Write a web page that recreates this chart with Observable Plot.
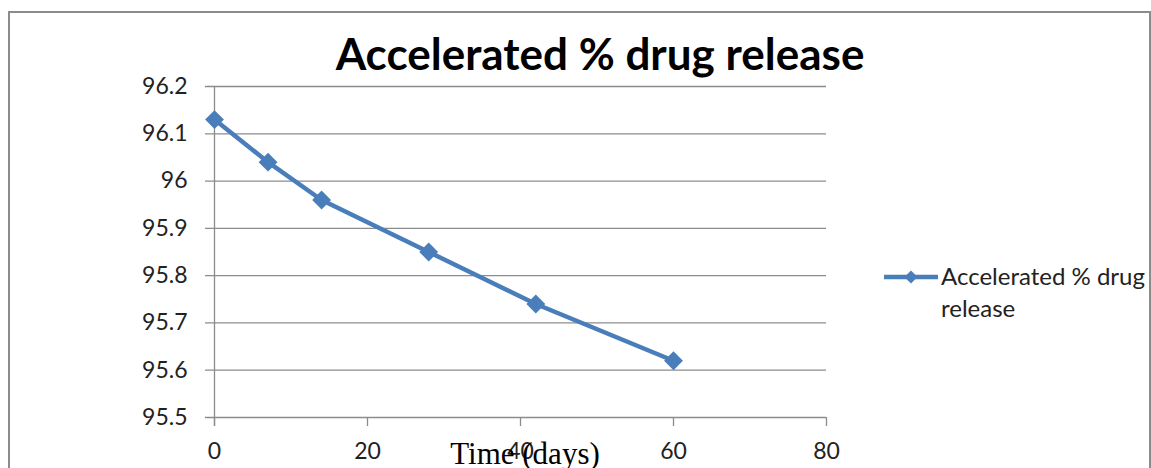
<!DOCTYPE html>
<html>
<head>
<meta charset="utf-8">
<script src="https://cdn.jsdelivr.net/npm/d3@7"></script>
<script src="https://cdn.jsdelivr.net/npm/@observablehq/plot@0.6"></script>
<style>
  html, body { margin: 0; padding: 0; background: #fff; }
  #chart { width: 1151px; height: 468px; overflow: hidden; }
</style>
</head>
<body>
<div id="chart"></div>
<script>
const days = [0, 7, 14, 28, 42, 60];
const release = [96.13, 96.04, 95.96, 95.85, 95.74, 95.62];
const xTicks = [0, 20, 40, 60, 80];
const yTicks = [95.5, 95.6, 95.7, 95.8, 95.9, 96, 96.1, 96.2];
const titleText = "Accelerated % drug release";
const xLabel = "Time (days)";
const legendLines = ["Accelerated % drug", "release"];

const data = days.map((d, i) => ({day: d, value: release[i]}));
const blue = "#4a7ebb";
const grid = "#8c8c8c";
const font = "Lato, 'Open Sans', sans-serif";

const W = 1151, H = 468;
const plot = Plot.plot({
  width: W,
  height: H,
  marginLeft: 214,
  marginRight: W - 826,
  marginTop: 86,
  marginBottom: H - 417,
  style: {fontFamily: font, background: "white", color: "#222"},
  x: {domain: [0, 80], ticks: xTicks},
  y: {domain: [95.5, 96.2], ticks: yTicks},
  marks: [
    Plot.ruleY(yTicks, {stroke: grid, strokeWidth: 1.3, insetLeft: -9}),
    Plot.ruleX([0], {stroke: grid, strokeWidth: 1.3, insetBottom: -9}),
    Plot.axisX({ticks: xTicks, tickSize: 9, stroke: grid, strokeWidth: 1.3, fill: "#222", fontSize: 23, tickPadding: 16, label: null, tickFormat: d => `${d}`}),
    Plot.axisY({ticks: yTicks, tickSize: 0, fill: "#222", fontSize: 23, tickPadding: 27, label: null, tickFormat: d => `${d}`}),
    Plot.line(data, {x: "day", y: "value", stroke: blue, strokeWidth: 4.5}),
    Plot.dot(data, {x: "day", y: "value", symbol: "diamond2", r: 8.5, fill: blue, stroke: null})
  ]
});
document.getElementById("chart").appendChild(plot);

const svg = d3.select(plot);
// outer chart border
svg.append("rect")
  .attr("x", 9).attr("y", 12).attr("width", 1141).attr("height", 480)
  .attr("fill", "none").attr("stroke", grid).attr("stroke-width", 2);
// title
svg.append("text")
  .attr("x", 600).attr("y", 70)
  .attr("text-anchor", "middle")
  .style("font-family", font).style("font-weight", "bold").style("font-size", "44px")
  .attr("fill", "#000")
  .text(titleText);
// x-axis label
svg.append("text")
  .attr("x", 525).attr("y", 464)
  .attr("text-anchor", "middle")
  .style("font-family", "'Liberation Serif', 'DejaVu Serif', serif").style("font-size", "31px")
  .attr("fill", "#000")
  .text(xLabel);
// legend
const lg = svg.append("g");
lg.append("line").attr("x1", 884).attr("x2", 938).attr("y1", 277).attr("y2", 277)
  .attr("stroke", blue).attr("stroke-width", 4.5);
lg.append("path").attr("transform", "translate(911,277)")
  .attr("d", d3.symbol(d3.symbolDiamond2, 110)())
  .attr("fill", blue);
legendLines.forEach((t, i) => {
  lg.append("text").attr("x", 941).attr("y", 277 + i * 32).attr("dy", "0.35em")
    .attr("text-anchor", "start")
    .style("font-family", font).style("font-size", "24px").attr("fill", "#222").text(t);
});
</script>
</body>
</html>
